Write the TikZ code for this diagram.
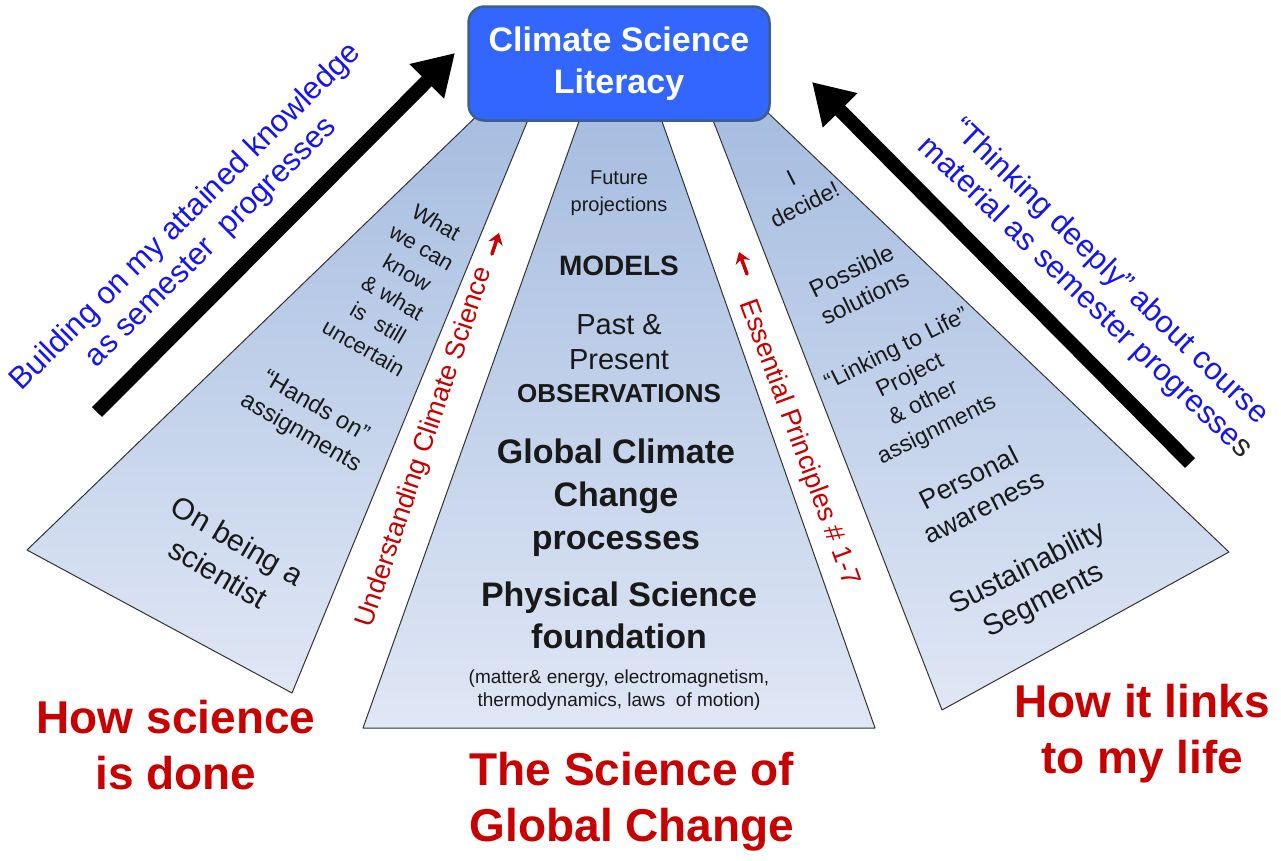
\documentclass[tikz,border=0pt]{standalone}
\usepackage{fontspec}
\setmainfont{Liberation Sans}
\usetikzlibrary{arrows.meta}
\definecolor{boxblue}{HTML}{3366FF}
\definecolor{boxedge}{HTML}{3D5F8C}
\definecolor{fantop}{RGB}{166,189,224}
\definecolor{fanbot}{RGB}{224,231,245}
\definecolor{darkred}{HTML}{C80000}
\definecolor{textblue}{HTML}{1414F5}
\newcommand{\fsz}[2]{\fontsize{#1}{#2}\selectfont}
\begin{document}
\begin{tikzpicture}[x=1pt, y=-1pt, line join=round, line cap=round,
  fan/.style={draw=black!80, line width=1pt, top color=fantop, bottom color=fanbot},
  litbox/.style={draw=boxedge, line width=2.5pt, fill=boxblue, rounded corners=16pt,
    minimum width=301pt, minimum height=114pt, align=center, text=white,
    font=\fsz{34}{42}\bfseries},
  bigarrow/.style={line width=14pt, line cap=butt, -{Triangle[length=40pt,width=46pt]}},
  redarrow/.style={draw=darkred, line width=3.5pt, -{Stealth[length=11pt,width=15pt]}},
  fantext/.style={align=center, inner sep=0pt, text=black!90},
  bluetext/.style={align=center, inner sep=0pt, text=textblue, font=\fsz{31}{36}},
  redtext/.style={inner sep=0pt, text=darkred, font=\fsz{27}{30}},
  titletext/.style={align=center, inner sep=0pt, text=darkred, font=\fsz{46}{56}\bfseries}]
\useasboundingbox (0,0) rectangle (1281,860);
% Three fans under the box
\coordinate (L1) at (483,110); \coordinate (L2) at (27,550);
\coordinate (L3) at (292,693); \coordinate (L4) at (532,110);
\coordinate (C1) at (583,110); \coordinate (C2) at (363,728);
\coordinate (C3) at (875,728); \coordinate (C4) at (658,110);
\coordinate (R1) at (709,110); \coordinate (R2) at (942,710);
\coordinate (R3) at (1229,552); \coordinate (R4) at (765,110);
\draw[fan] (L1) -- (L2) -- (L3) -- (L4) -- cycle;
\draw[fan] (C1) -- (C2) -- (C3) -- (C4) -- cycle;
\draw[fan] (R1) -- (R2) -- (R3) -- (R4) -- cycle;
% Title box
\node[litbox] (lit) at (619,63.5) {Climate Science\\Literacy};
% Big black arrows
\coordinate (a1) at (97,412); \coordinate (a2) at (455,53);
\coordinate (b1) at (1190,463); \coordinate (b2) at (812,82);
\draw[bigarrow] (a1) -- (a2);
\draw[bigarrow] (b1) -- (b2);
% Blue side texts
\node[bluetext, rotate=44.8] (build) at (199,230) {Building on my attained knowledge\\as semester\ \ progresses};
\node[bluetext, rotate=-43.8] (think) at (1097,285) {“Thinking deeply” about course\\material as semester progresse{\color{black!85}s}};
% Red texts along the white strips
\node[redtext, rotate=71.5] (under) at (425,447) {Understanding Climate Science};
\node[redtext, rotate=-69.7] (ess) at (799,443) {Essential Principles \# 1-7};
\coordinate (u1) at (492,254); \coordinate (u2) at (499,233);
\coordinate (e1) at (747,274); \coordinate (e2) at (739,252);
\draw[redarrow] (u1) -- (u2);
\draw[redarrow] (e1) -- (e2);
% Left fan
\node[fantext, rotate=-30, font=\fsz{22}{29}] (know) at (400,285) {What\\we can\\know\\\& what\\is\ \ still\\uncertain};
\node[fantext, rotate=-30, font=\fsz{24}{30}] (hands) at (308,420) {“Hands on”\\assignments};
\node[fantext, rotate=-30.5, font=\fsz{30}{38}] (sci) at (228,557) {On being a\\scientist};
% Centre fan
\node[fantext, font=\fsz{20}{27}] (fut) at (619,193) {Future\\projections};
\node[fantext, font=\fsz{28}{34}\bfseries] (mod) at (619,266) {MODELS};
\node[fantext, font=\fsz{29}{35}] (past) at (619,342) {Past \&\\Present};
\node[fantext, font=\fsz{26}{30}\bfseries] (obs) at (619,394) {OBSERVATIONS};
\node[fantext, font=\fsz{34}{43}\bfseries] (gcc) at (616,498) {Global Climate\\Change\\processes};
\node[fantext, font=\fsz{34}{42}\bfseries] (psf) at (619,615) {Physical Science\\foundation};
\node[fantext, font=\fsz{19}{23}] (mat) at (619,690) {(matter\& energy, electromagnetism,\\thermodynamics, laws\ \ of motion)};
% Right fan
\node[fantext, rotate=27, font=\fsz{23}{30}] (dec) at (798,191) {I\\decide!};
\node[fantext, rotate=26, font=\fsz{24}{30}] (sol) at (858,284) {Possible\\solutions};
\node[fantext, rotate=26.5, font=\fsz{23}{30}] (proj) at (917,390) {“Linking to Life”\\Project\\\& other\\assignments};
\node[fantext, rotate=27, font=\fsz{27}{33}] (pers) at (976,492) {Personal\\awareness};
\node[fantext, rotate=27, font=\fsz{29}{36}] (sus) at (1036,585) {Sustainability\\Segments};
% Red headings
\node[titletext] (how) at (176,745) {How science\\is done};
\node[titletext] (sgc) at (632,802) {The Science of\\Global Change};
\node[titletext] (link) at (1142,734) {How it links\\to my life};
\end{tikzpicture}
\end{document}
